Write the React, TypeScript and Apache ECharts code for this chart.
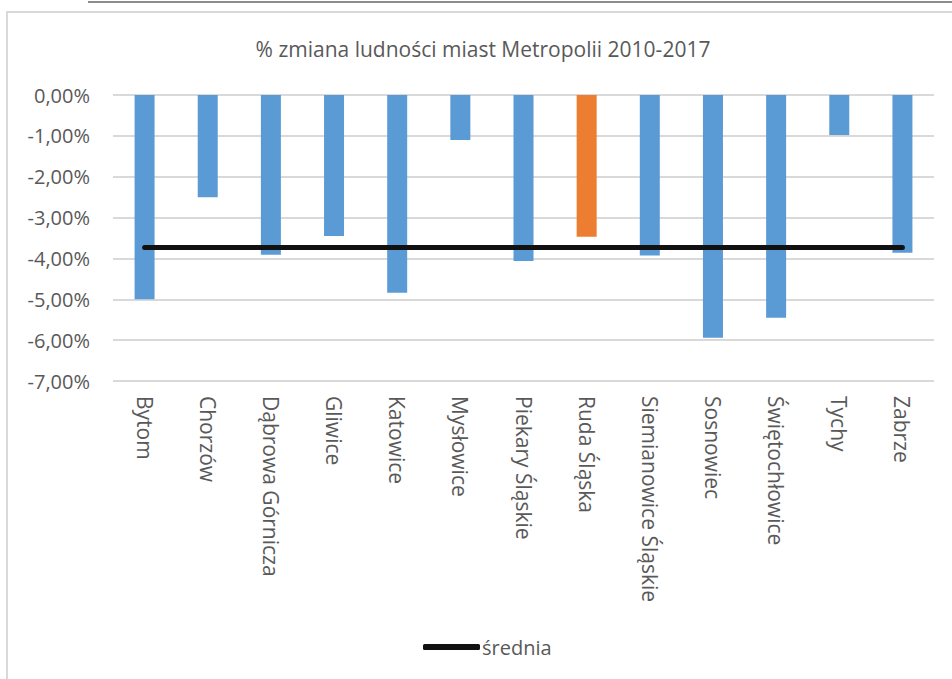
import React, { useEffect, useRef } from "react";
import * as echarts from "echarts";

const titleText = "% zmiana ludności miast Metropolii 2010-2017";
const cities = [
  "Bytom",
  "Chorzów",
  "Dąbrowa Górnicza",
  "Gliwice",
  "Katowice",
  "Mysłowice",
  "Piekary Śląskie",
  "Ruda Śląska",
  "Siemianowice Śląskie",
  "Sosnowiec",
  "Świętochłowice",
  "Tychy",
  "Zabrze",
];
const changePct = [-5.0, -2.5, -3.91, -3.45, -4.84, -1.1, -4.06, -3.47, -3.93, -5.94, -5.45, -0.98, -3.86];
const averagePct = [-3.73, -3.73, -3.73, -3.73, -3.73, -3.73, -3.73, -3.73, -3.73, -3.73, -3.73, -3.73, -3.73];
const highlighted = ["Ruda Śląska"];
const averageName = "średnia";

const FONT = "'Open Sans', sans-serif";

export default function App() {
  const ref = useRef<HTMLDivElement>(null);
  useEffect(() => {
    if (!ref.current) return;
    const chart = echarts.init(ref.current, null, { renderer: "svg" });
    chart.setOption({
      animation: false,
      backgroundColor: "#ffffff",
      title: {
        text: titleText,
        left: 478,
        top: 33,
        textAlign: "center",
        textStyle: { fontFamily: FONT, fontSize: 21, fontWeight: "normal", color: "#595959" },
      },
      graphic: [
        {
          type: "rect",
          shape: { x: 7, y: 12, width: 980, height: 720 },
          style: { fill: "none", stroke: "#d9d9d9", lineWidth: 2 },
          silent: true,
          z: -10,
        },
        {
          type: "line",
          shape: { x1: 88, y1: 2, x2: 952, y2: 2 },
          style: { stroke: "#8c8c8c", lineWidth: 2 },
          silent: true,
        },
      ],
      legend: {
        data: [averageName],
        left: 418,
        top: 632,
        icon: "roundRect",
        itemWidth: 57,
        itemHeight: 6,
        textStyle: { fontFamily: FONT, fontSize: 20, color: "#595959", padding: [0, 0, 0, -3] },
      },
      grid: { left: 113, right: 18, top: 95, bottom: 298 },
      xAxis: {
        type: "category",
        data: cities,
        position: "bottom",
        axisLine: { show: false, onZero: false },
        axisTick: { show: false },
        axisLabel: {
          rotate: -90,
          margin: 15,
          interval: 0,
          fontFamily: FONT,
          fontSize: 21,
          color: "#595959",
        },
      },
      yAxis: {
        type: "value",
        min: -7,
        max: 0,
        interval: 1,
        axisLine: { show: false },
        axisTick: { show: false },
        splitLine: { lineStyle: { color: "#d9d9d9", width: 2 } },
        axisLabel: {
          margin: 23,
          fontFamily: FONT,
          fontSize: 20,
          color: "#595959",
          formatter: (v: number) => (v === 0 ? "0,00%" : v.toFixed(2).replace(".", ",") + "%"),
        },
      },
      series: [
        {
          name: "zmiana",
          type: "bar",
          barWidth: 20,
          data: changePct.map((v, i) => ({
            value: v,
            itemStyle: { color: highlighted.includes(cities[i]) ? "#ED7D31" : "#5B9BD5" },
          })),
        },
        {
          name: averageName,
          type: "line",
          data: averagePct,
          symbol: "none",
          itemStyle: { color: "#111111" },
          lineStyle: { color: "#111111", width: 5, cap: "round" },
          z: 5,
        },
      ],
    });
    return () => chart.dispose();
  }, []);
  return <div ref={ref} style={{ position: "fixed", left: 0, top: 0, width: 952, height: 679 }} />;
}
